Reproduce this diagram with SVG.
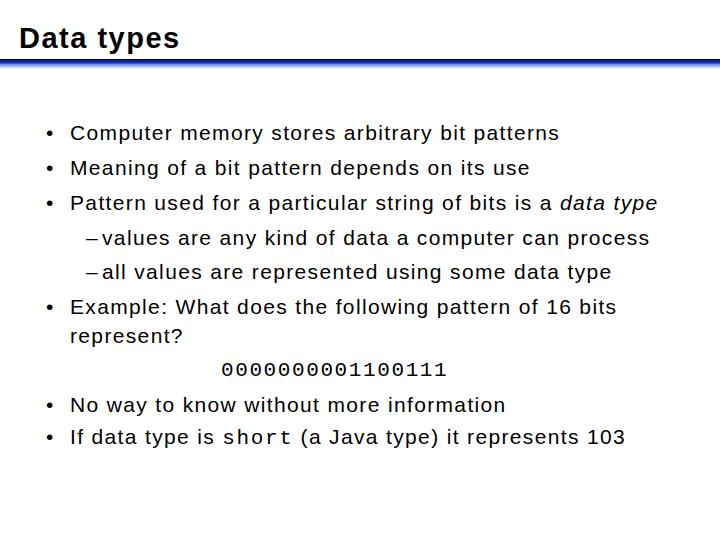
<svg xmlns="http://www.w3.org/2000/svg" width="720" height="540" viewBox="0 0 720 540">
<style>
.t{font-family:"Liberation Sans",Arial,sans-serif;font-size:21px;letter-spacing:1.35px;fill:#000}
.m{font-family:"Liberation Mono","Courier New",monospace;font-size:21px;letter-spacing:1.6px;fill:#000}
.h{font-family:"Liberation Sans",Arial,sans-serif;font-size:29px;letter-spacing:1.5px;font-weight:bold;fill:#000}
</style>
<defs><linearGradient id="g" x1="0" y1="0" x2="0" y2="1">
<stop offset="0" stop-color="#000050"/><stop offset="0.4" stop-color="#1a3cc8"/><stop offset="0.55" stop-color="#6f8fe8"/><stop offset="1" stop-color="#ffffff"/></linearGradient></defs>
<rect width="720" height="540" fill="#fff"/>
<text class="h" x="19" y="48">Data types</text>
<rect x="0" y="59" width="720" height="10" fill="url(#g)"/>
<g class="t">
<text x="46" y="140">•</text><text x="70" y="140">Computer memory stores arbitrary bit patterns</text>
<text x="46" y="175">•</text><text x="70" y="175">Meaning of a bit pattern depends on its use</text>
<text x="46" y="210">•</text><text x="70" y="210">Pattern used for a particular string of bits is a <tspan font-style="italic">data type</tspan></text>
<text x="86" y="245">–</text><text x="102" y="245">values are any kind of data a computer can process</text>
<text x="86" y="279">–</text><text x="102" y="279">all values are represented using some data type</text>
<text x="46" y="314">•</text><text x="70" y="314">Example: What does the following pattern of 16 bits</text>
<text x="70" y="343">represent?</text>
<text x="46" y="412">•</text><text x="70" y="412">No way to know without more information</text>
<text x="46" y="444">•</text><text x="70" y="444">If data type is <tspan class="m">short</tspan> (a Java type) it represents 103</text>
</g>
<text class="m" x="221" y="376">0000000001100111</text>
</svg>
